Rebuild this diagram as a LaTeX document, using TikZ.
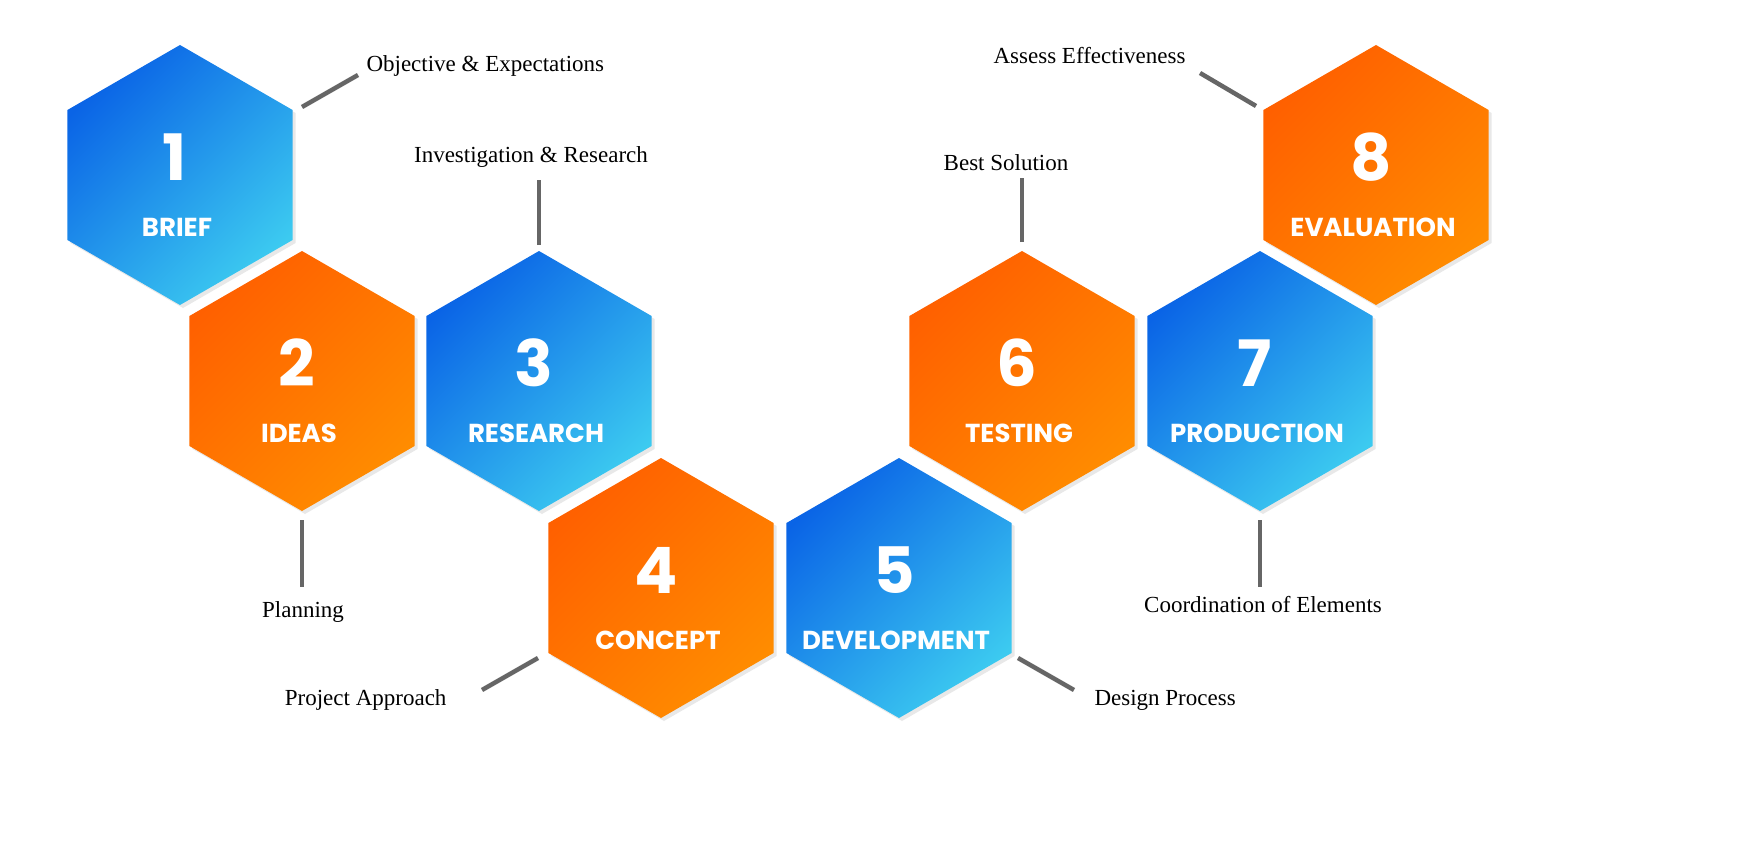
\documentclass[tikz,border=0pt]{standalone}
\usepackage{fontspec}
\setmainfont{Liberation Serif}
\newfontfamily\hexfont{Poppins}
\usetikzlibrary{shapes.geometric,shadows}
\definecolor{bdark}{HTML}{0A64E6}
\definecolor{blight}{HTML}{3CCAF0}
\definecolor{odark}{HTML}{FF6000}
\definecolor{olight}{HTML}{FF8C00}
\definecolor{lgray}{HTML}{666666}
\tikzset{
 hex/.style={regular polygon, regular polygon sides=6, shape border rotate=30, minimum size=260pt, inner sep=0pt, drop shadow={opacity=0.18, shadow xshift=3pt, shadow yshift=-3pt}},
 bluehex/.style={hex, left color=bdark, right color=blight, shading angle=45},
 orangehex/.style={hex, left color=odark, right color=olight, shading angle=45},
 num/.style={text=white, font=\hexfont\bfseries\fontsize{64}{64}\selectfont},
 lab/.style={text=white, font=\hexfont\bfseries\fontsize{26}{26}\selectfont},
 captext/.style={font=\fontsize{23}{23}\selectfont, text=black},
 conn/.style={draw=lgray, line width=4.5pt}
}
\begin{document}
\begin{tikzpicture}[x=1pt,y=-1pt]
\useasboundingbox (0,0) rectangle (1737,856);
\foreach \n/\x/\y/\s/\t in {1/180/175/bluehex/BRIEF,2/302/381/orangehex/IDEAS,3/539/381/bluehex/RESEARCH,4/661/588/orangehex/CONCEPT,5/899/588/bluehex/DEVELOPMENT,6/1022/381/orangehex/TESTING,7/1260/381/bluehex/PRODUCTION,8/1376/175/orangehex/EVALUATION}{
 \node[\s] (h\n) at (\x,\y) {};
 \node[num] (n\n) at (\x-5,\y-18) {\n};
 \node[lab] (l\n) at (\x-3,\y+52) {\t};
}
\node[captext, anchor=west] (c1) at (363,66) {Objective \& Expectations};
\node[captext] (c3) at (531,157) {Investigation \& Research};
\node[captext] (c2) at (303,612) {Planning};
\node[captext, anchor=east] (c4) at (450,700) {Project Approach};
\node[captext, anchor=west] (c5) at (1091,700) {Design Process};
\node[captext] (c6) at (1006,163) {Best Solution};
\node[captext] (c7) at (1263,605) {Coordination of Elements};
\node[captext, anchor=east] (c8) at (1189,56) {Assess Effectiveness};
\coordinate (a1) at (302,107); \coordinate (b1) at (358,75);
\coordinate (a3) at (539,245); \coordinate (b3) at (539,180);
\coordinate (a2) at (302,520); \coordinate (b2) at (302,587);
\coordinate (a4) at (538,658); \coordinate (b4) at (482,690);
\coordinate (a5) at (1018,658); \coordinate (b5) at (1074,690);
\coordinate (a6) at (1022,242); \coordinate (b6) at (1022,178);
\coordinate (a7) at (1260,520); \coordinate (b7) at (1260,587);
\coordinate (a8) at (1256,106); \coordinate (b8) at (1200,73);
\foreach \i in {1,...,8}{\draw[conn] (a\i) -- (b\i);}
\end{tikzpicture}
\end{document}
